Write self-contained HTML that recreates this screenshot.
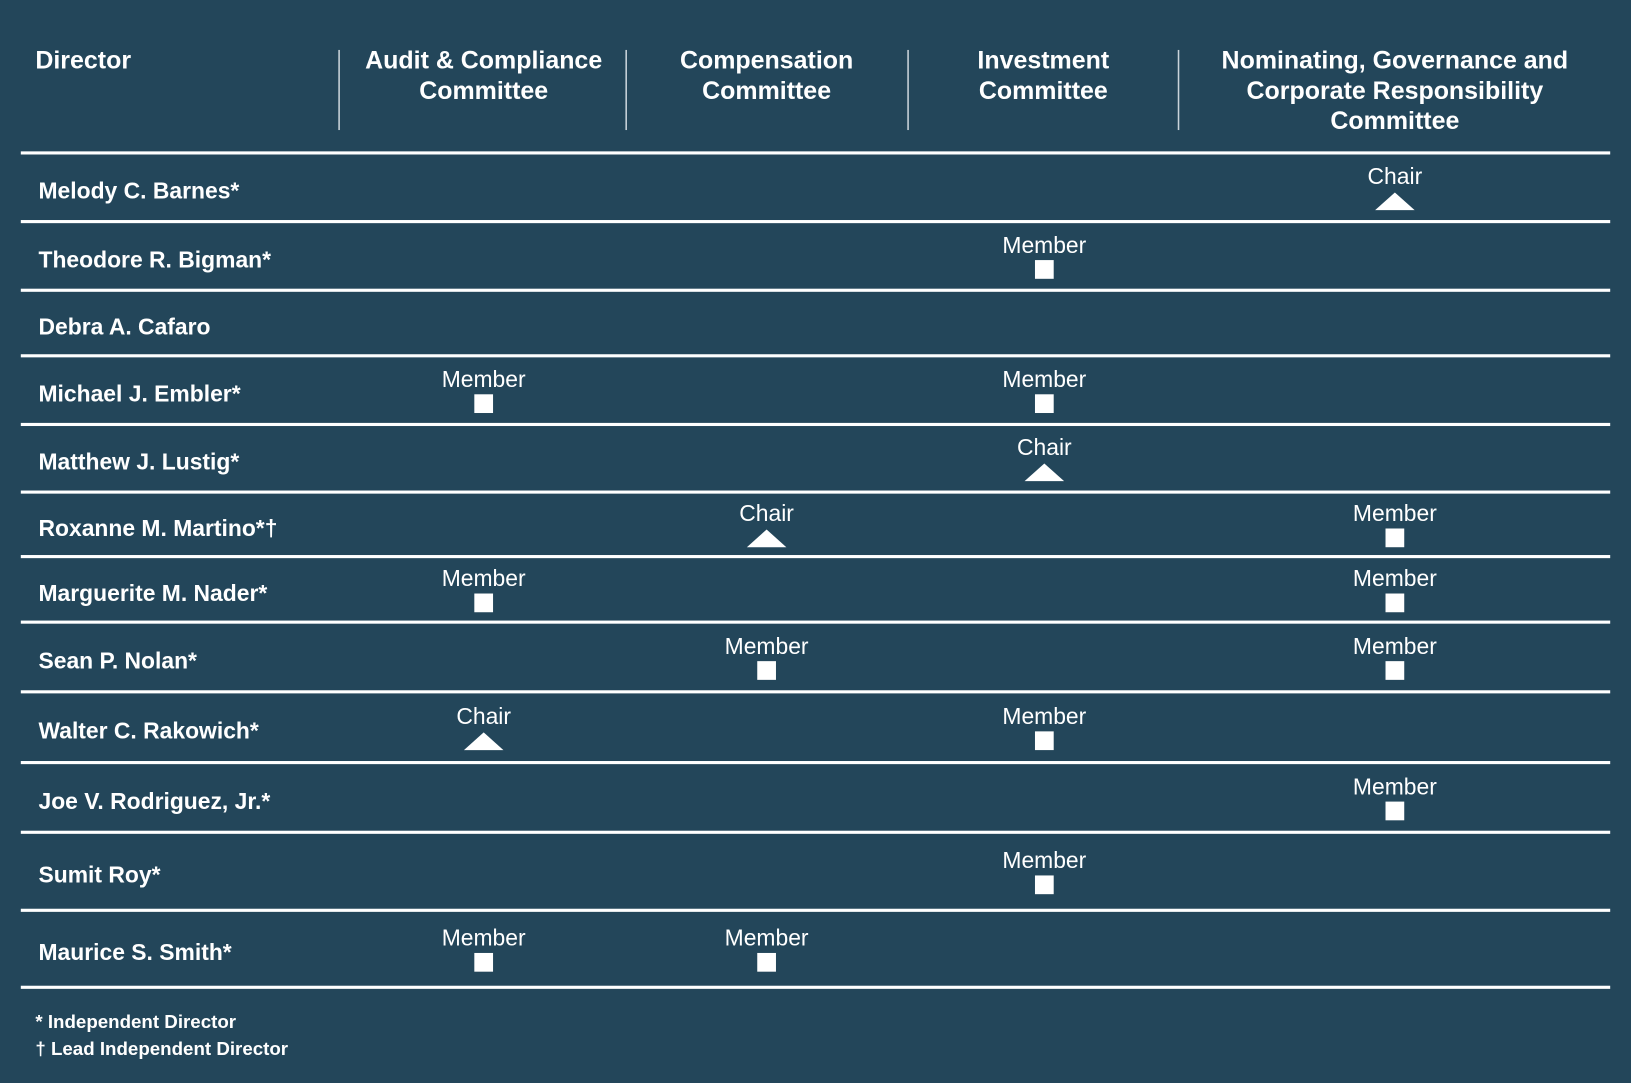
<!DOCTYPE html>
<html><head><meta charset="utf-8"><style>
html,body{margin:0;padding:0;background:#23465a;}
svg{display:block;font-family:"Liberation Sans",Arial,sans-serif;}
</style></head><body>
<svg id="chart" width="1631" height="1083" viewBox="0 0 1568 1041" preserveAspectRatio="none" xmlns="http://www.w3.org/2000/svg">
<rect x="0" y="0" width="1568" height="1041" fill="#23465a"/>
<g fill="#fff" font-weight="bold" font-size="24">
<text x="34" y="66">Director</text>
<text x="465" y="66" text-anchor="middle"><tspan x="465">Audit &amp; Compliance</tspan><tspan x="465" dy="29">Committee</tspan></text>
<text x="737" y="66" text-anchor="middle"><tspan x="737">Compensation</tspan><tspan x="737" dy="29">Committee</tspan></text>
<text x="1003" y="66" text-anchor="middle"><tspan x="1003">Investment</tspan><tspan x="1003" dy="29">Committee</tspan></text>
<text x="1341" y="66" text-anchor="middle"><tspan x="1341">Nominating, Governance and</tspan><tspan x="1341" dy="29">Corporate Responsibility</tspan><tspan x="1341" dy="29">Committee</tspan></text>
</g>
<g stroke="#c9d3da" stroke-width="1.5">
<line x1="326" y1="48" x2="326" y2="125"/><line x1="602" y1="48" x2="602" y2="125"/><line x1="873" y1="48" x2="873" y2="125"/><line x1="1133" y1="48" x2="1133" y2="125"/>
</g>
<g id="body"></g>
<g fill="#fff" font-weight="bold" font-size="18">
<text x="34" y="988">* Independent Director</text>
<text x="34" y="1014">† Lead Independent Director</text>
</g>
</svg>
<script>
const directors = ["Melody C. Barnes*","Theodore R. Bigman*","Debra A. Cafaro","Michael J. Embler*","Matthew J. Lustig*","Roxanne M. Martino*†","Marguerite M. Nader*","Sean P. Nolan*","Walter C. Rakowich*","Joe V. Rodriguez, Jr.*","Sumit Roy*","Maurice S. Smith*"];
const committees = ["audit","compensation","investment","nominating"];
// roles per director: [audit, compensation, investment, nominating]; "" none
const roles = [
 ["","","","Chair"],
 ["","","Member",""],
 ["","","",""],
 ["Member","","Member",""],
 ["","","Chair",""],
 ["","Chair","","Member"],
 ["Member","","","Member"],
 ["","Member","","Member"],
 ["Chair","","Member",""],
 ["","","","Member"],
 ["","","Member",""],
 ["Member","Member","",""]
];
const rowLines = [147,213,279,342,408,473,535,598,665,733,800,875,949];
const colX = [465,737,1004,1341];
const NS="http://www.w3.org/2000/svg";
const body=document.getElementById('body');
function mk(tag,attrs){const e=document.createElementNS(NS,tag);for(const k in attrs)e.setAttribute(k,attrs[k]);return e;}
rowLines.forEach((y,i)=>{
  const l=mk('rect',{x:20,y:y-1.5,width:1528,height:3,fill:'#fff'});
  
  
  body.appendChild(l);
});
directors.forEach((name,i)=>{
  const top=rowLines[i], bot=rowLines[i+1], mid=(top+bot)/2;
  const g=mk('g',{});
  
  
  const t=mk('text',{x:37,y:mid+11,fill:'#fff','font-weight':'bold','font-size':22});
  
  
  t.textContent=name;g.appendChild(t);
  roles[i].forEach((r,c)=>{
    if(!r)return;
    const cx=colX[c];
    const lab=mk('text',{x:cx,y:mid-3,fill:'#fff','font-size':22,'text-anchor':'middle'});
    
    
    lab.textContent=r;g.appendChild(lab);
    let m;
    if(r==='Chair'){
      m=mk('polygon',{points:`${cx-19},${mid+22} ${cx+19},${mid+22} ${cx},${mid+5}`,fill:'#fff'});
      
    }else{
      m=mk('rect',{x:cx-9,y:mid+4,width:18,height:18,fill:'#fff'});
      
    }
    
    g.appendChild(m);
  });
  body.appendChild(g);
});
</script>
</body></html>
